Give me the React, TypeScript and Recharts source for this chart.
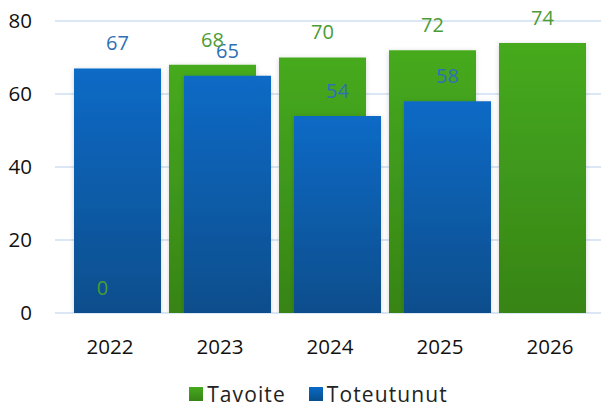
import { BarChart, Bar, XAxis, YAxis, CartesianGrid, Legend, LabelList } from "recharts";

const years = ["2022", "2023", "2024", "2025", "2026"];
const tavoite = [0, 68, 70, 72, 74];
const toteutunut: (number | null)[] = [67, 65, 54, 58, null];
const yTicks = [0, 20, 40, 60, 80];

const data = years.map((year, i) => ({
  year,
  tavoite: tavoite[i],
  toteutunut: toteutunut[i],
}));

const font = "'Open Sans', sans-serif";

function LegendContent() {
  const items = [
    { name: "Tavoite", fill: "url(#greenGrad)" },
    { name: "Toteutunut", fill: "url(#blueGrad)" },
  ];
  return (
    <div
      style={{
        display: "flex",
        justifyContent: "center",
        gap: 23,
        fontFamily: font,
        fontSize: 21,
        letterSpacing: 1.1,
        lineHeight: "28px",
        color: "#222",
        paddingLeft: 32,
        paddingTop: 2,
      }}
    >
      {items.map((it) => (
        <div key={it.name} style={{ display: "flex", alignItems: "center", gap: 4 }}>
          <svg width={14} height={14}>
            <rect width={14} height={14} fill={it.fill} />
          </svg>
          <span>{it.name}</span>
        </div>
      ))}
    </div>
  );
}

export default function App() {
  return (
    <div style={{ position: "absolute", left: 0, top: 0, width: 601, height: 408, overflow: "hidden", background: "#fff" }}>
      <BarChart
        width={605}
        height={408}
        data={data}
        margin={{ top: 21, right: 0, bottom: 0, left: 0 }}
        barSize={87}
        barGap={-72}
      >
        <defs>
          <linearGradient id="blueGrad" x1="0" y1="0" x2="0" y2="1">
            <stop offset="0%" stopColor="#0a6ac6" />
            <stop offset="100%" stopColor="#074e8c" />
          </linearGradient>
          <linearGradient id="greenGrad" x1="0" y1="0" x2="0" y2="1">
            <stop offset="0%" stopColor="#46aa1e" />
            <stop offset="100%" stopColor="#378417" />
          </linearGradient>
          <filter id="shadow" x="-10%" y="-10%" width="120%" height="120%">
            <feDropShadow dx="0" dy="1" stdDeviation="2.5" floodColor="#000" floodOpacity="0.18" />
          </filter>
        </defs>
        <CartesianGrid vertical={false} stroke="#dbe7f4" strokeWidth={2} />
        <XAxis
          dataKey="year"
          axisLine={false}
          tickLine={false}
          tickMargin={20}
          height={65}
          tick={{ fill: "#111", fontSize: 20.5, fontFamily: font }}
        />
        <YAxis
          domain={[0, 80]}
          ticks={yTicks}
          allowDataOverflow
          axisLine={false}
          tickLine={false}
          tickMargin={17}
          width={55}
          tick={{ fill: "#111", fontSize: 20.5, fontFamily: font }}
        />
        <Legend verticalAlign="bottom" height={30} wrapperStyle={{ bottom: 0 }} content={<LegendContent />} />
        <Bar dataKey="tavoite" stackId="t" name="Tavoite" fill="url(#greenGrad)" filter="url(#shadow)" isAnimationActive={false} />
        <Bar dataKey="toteutunut" stackId="b" name="Toteutunut" fill="url(#blueGrad)" filter="url(#shadow)" isAnimationActive={false}>
          <LabelList dataKey="toteutunut" position="top" offset={18} fill="#2e70b6" fontSize={20} fontFamily={font} />
        </Bar>
        {/* label-only bar stacked on Tavoite so its labels sit above the blue bars */}
        <Bar dataKey={() => 0.001} stackId="t" fill="none" legendType="none" isAnimationActive={false}>
          <LabelList dataKey="tavoite" position="top" offset={18} fill="#4b9c35" fontSize={20} fontFamily={font} />
        </Bar>
      </BarChart>
    </div>
  );
}
